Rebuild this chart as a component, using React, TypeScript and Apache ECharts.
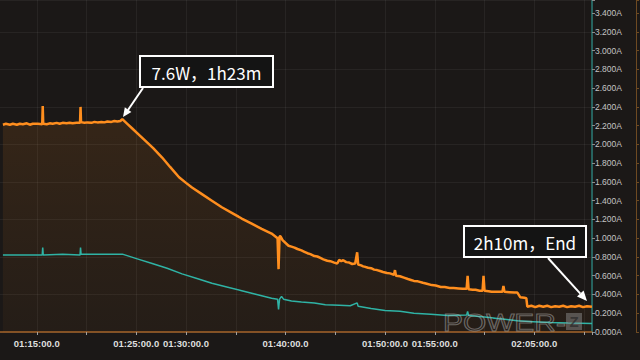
import React, { useEffect, useRef } from "react";
import * as echarts from "echarts";

// time in minutes since 00:00 (e.g. 75 = 01:15:00), current in A
const orangeData: [number, number][] = [
  [71.6, 2.21], [71.9, 2.22], [72.3, 2.21], [72.6, 2.22], [73.0, 2.21], [73.3, 2.22], [73.6, 2.215],
  [74.0, 2.225], [74.3, 2.21], [74.6, 2.22], [75.1, 2.22], [75.55, 2.215], [75.6, 2.41], [75.65, 2.22],
  [76.0, 2.215], [76.3, 2.225], [76.6, 2.22], [77.0, 2.23], [77.3, 2.22], [77.6, 2.23], [78.0, 2.225],
  [78.3, 2.23], [78.6, 2.225], [79.0, 2.23], [79.35, 2.23], [79.4, 2.4], [79.45, 2.24], [79.8, 2.23],
  [80.1, 2.235], [80.5, 2.23], [80.8, 2.24], [81.1, 2.235], [81.5, 2.24], [81.8, 2.235], [82.1, 2.245],
  [82.5, 2.24], [82.8, 2.25], [83.1, 2.245], [83.4, 2.25], [83.6, 2.27], [84.1, 2.22], [84.6, 2.17],
  [85.2, 2.11], [85.9, 2.04], [86.7, 1.96], [87.6, 1.86], [88.4, 1.76], [89.3, 1.65], [90.0, 1.59],
  [90.6, 1.54], [91.6, 1.47], [92.6, 1.4], [93.6, 1.33], [94.6, 1.27], [95.6, 1.21], [96.6, 1.155],
  [97.6, 1.1], [98.6, 1.05], [99.2, 1.0], [99.3, 0.67], [99.4, 1.02], [99.5, 1.02], [99.7, 0.98],
  [100.3, 0.92], [100.6, 0.91], [100.9, 0.9], [101.2, 0.885], [101.6, 0.87], [101.9, 0.855],
  [102.2, 0.84], [102.5, 0.83], [102.9, 0.81], [103.2, 0.805], [103.5, 0.79], [103.8, 0.775],
  [104.2, 0.76], [104.5, 0.755], [104.9, 0.74], [105.2, 0.73], [105.4, 0.77], [105.6, 0.755],
  [105.8, 0.765], [106.1, 0.745], [106.4, 0.74], [106.7, 0.725], [107.0, 0.73], [107.2, 0.85],
  [107.3, 0.72], [107.6, 0.71], [107.8, 0.7], [108.0, 0.695], [108.3, 0.685], [108.6, 0.68],
  [108.9, 0.665], [109.2, 0.66], [109.5, 0.65], [109.8, 0.64], [110.2, 0.63], [110.5, 0.625],
  [110.9, 0.61], [111.0, 0.66], [111.1, 0.6], [111.5, 0.595], [111.9, 0.58], [112.3, 0.565],
  [112.6, 0.555], [112.9, 0.545], [113.3, 0.54], [113.8, 0.525], [114.2, 0.515], [114.7, 0.5],
  [115.1, 0.495], [115.6, 0.48], [116.0, 0.48], [116.5, 0.47], [116.9, 0.47], [117.4, 0.465],
  [117.8, 0.46], [118.2, 0.46], [118.3, 0.6], [118.4, 0.455], [118.8, 0.45], [119.1, 0.45],
  [119.5, 0.44], [119.8, 0.44], [119.9, 0.6], [120.0, 0.44], [120.4, 0.435], [120.7, 0.43],
  [121.1, 0.43], [121.8, 0.43], [121.9, 0.49], [122.0, 0.43], [122.5, 0.425], [123.0, 0.42],
  [123.3, 0.42], [123.6, 0.37], [124.0, 0.365], [124.2, 0.36], [124.3, 0.27], [124.7, 0.28],
  [125.1, 0.265], [125.5, 0.28], [125.9, 0.27], [126.3, 0.28], [126.7, 0.265], [127.1, 0.275],
  [127.5, 0.27], [127.9, 0.28], [128.3, 0.265], [128.7, 0.275], [129.1, 0.27], [129.5, 0.28],
  [129.9, 0.265], [130.3, 0.275], [130.8, 0.27],
];

const tealData: [number, number][] = [
  [71.6, 0.82], [73.6, 0.82], [75.55, 0.82], [75.6, 0.9], [75.65, 0.82], [77.6, 0.83],
  [79.35, 0.82], [79.4, 0.9], [79.45, 0.83], [81.6, 0.83], [83.6, 0.83], [85.1, 0.78],
  [86.6, 0.73], [88.1, 0.68], [89.6, 0.62], [91.1, 0.57], [92.6, 0.52], [94.1, 0.48],
  [95.6, 0.44], [97.1, 0.4], [98.6, 0.36], [99.2, 0.35], [99.3, 0.24], [99.4, 0.35],
  [99.6, 0.38], [99.8, 0.35], [100.6, 0.33], [101.6, 0.32], [102.9, 0.31], [104.0, 0.29],
  [105.4, 0.285], [106.5, 0.28], [107.2, 0.31], [107.3, 0.275], [108.6, 0.25], [110.0, 0.23],
  [111.5, 0.22], [112.9, 0.2], [114.6, 0.19], [116.3, 0.175], [118.2, 0.18], [118.3, 0.22],
  [118.4, 0.175], [120.0, 0.16], [121.6, 0.14], [123.3, 0.12], [124.9, 0.11], [126.6, 0.1],
  [128.4, 0.095], [130.8, 0.09],
];

// x tick labels that are shown (minutes); the others are hidden in the source
const shownTimeLabels = [75, 85, 90, 100, 110, 115, 125];

const annotationPeak = "7.6W，1h23m";
const annotationEnd = "2h10m，End";

const fmtTime = (v: number) => {
  const h = Math.floor(v / 60);
  const m = Math.round(v - h * 60);
  return `${String(h).padStart(2, "0")}:${String(m).padStart(2, "0")}:00.0`;
};

// the chart canvas is extended 16px to the left of the page so that 01:10 lies just off-screen
const SHIFT = 16;

export default function App() {
  const ref = useRef<HTMLDivElement>(null);
  useEffect(() => {
    if (!ref.current) return;
    const chart = echarts.init(ref.current, null, { renderer: "svg" });
    const grid = "rgba(255,255,255,0.055)";
    chart.setOption({
      animation: false,
      backgroundColor: "#1b1817",
      grid: { left: 0, right: 48, top: 0, bottom: 28, containLabel: false },
      xAxis: {
        type: "value",
        min: 70,
        max: 130.8,
        interval: 5,
        axisLine: { show: true, lineStyle: { color: "#a3612a", width: 1.5 } },
        axisTick: { show: true, length: 3, lineStyle: { color: "#a0a0a0" } },
        splitLine: { show: true, lineStyle: { color: grid, width: 1 } },
        axisLabel: {
          margin: 6,
          color: "#dedede",
          fontSize: 9.5,
          fontWeight: "bold",
          fontFamily: "Liberation Sans, Arial, sans-serif",
          formatter: (v: number) =>
            shownTimeLabels.some((s) => Math.abs(s - v) < 1e-6) ? fmtTime(v) : "",
        },
      },
      yAxis: [
        {
          type: "value",
          position: "right",
          min: 0,
          max: 3.54,
          interval: 0.2,
          axisLine: { show: true, lineStyle: { color: "#2a7a76", width: 1.5 } },
          axisTick: { show: true, length: 3, lineStyle: { color: "#8c8c8c" } },
          splitLine: { show: false },
          axisLabel: {
            margin: 3,
            color: "#c4c4c4",
            fontSize: 8.5,
            fontFamily: "Liberation Sans, Arial, sans-serif",
            formatter: (v: number) =>
              Math.abs(v * 5 - Math.round(v * 5)) < 1e-6 ? v.toFixed(3) + "A" : "",
          },
        },
        {
          type: "value",
          position: "right",
          min: 0,
          max: 3.54,
          interval: 0.4,
          axisLine: { show: false },
          axisTick: { show: false },
          axisLabel: { show: false },
          splitLine: { show: true, lineStyle: { color: grid, width: 1 } },
        },
        {
          type: "value",
          position: "right",
          offset: 44,
          min: 0,
          max: 3.54,
          interval: 0.2,
          axisLine: { show: true, lineStyle: { color: "#6e4a22", width: 1 } },
          axisTick: { show: true, length: 3, lineStyle: { color: "#6e4a22" } },
          axisLabel: { show: false },
          splitLine: { show: false },
        },
      ],
      series: [
        {
          type: "line",
          data: orangeData,
          showSymbol: false,
          symbol: "none",
          lineStyle: { color: "#ff8e1e", width: 2.5 },
          areaStyle: {
            color: new echarts.graphic.LinearGradient(0, 0, 0, 1, [
              { offset: 0, color: "rgba(255,142,30,0.17)" },
              { offset: 1, color: "rgba(255,142,30,0.06)" },
            ]),
          },
          z: 2,
        },
        {
          type: "line",
          data: tealData,
          showSymbol: false,
          symbol: "none",
          lineStyle: { color: "#2fb3a5", width: 1.5 },
          z: 3,
        },
      ],
      graphic: [
        {
          type: "group",
          x: SHIFT,
          y: 0,
          children: [
            // watermark
            {
              type: "text",
              x: 443,
              y: 312,
              scaleX: 1.3,
              style: {
                text: "POWER-",
                fontSize: 23,
                fontFamily: "Liberation Sans, Arial, sans-serif",
                fill: "rgba(0,0,0,0)",
                stroke: "rgba(190,190,190,0.45)",
                lineWidth: 1,
              },
              z: 10,
            },
            {
              type: "rect",
              shape: { x: 566, y: 313, width: 16, height: 17 },
              style: { fill: "rgba(150,150,150,0.45)" },
              z: 10,
            },
            {
              type: "text",
              x: 574,
              y: 321.5,
              style: {
                text: "Z",
                fontSize: 15,
                fontWeight: "bold",
                fontFamily: "Liberation Sans, Arial, sans-serif",
                fill: "rgba(40,40,40,0.7)",
                align: "center",
                verticalAlign: "middle",
              },
              z: 11,
            },
            // annotation 1
            {
              type: "rect",
              shape: { x: 140, y: 56, width: 133, height: 31 },
              style: { fill: "#141414", stroke: "#ffffff", lineWidth: 2 },
              z: 20,
            },
            {
              type: "text",
              x: 206.5,
              y: 72,
              style: {
                text: annotationPeak,
                fontSize: 17,
                fontFamily: "Noto Sans CJK SC, Noto Sans, sans-serif",
                fill: "#ffffff",
                align: "center",
                verticalAlign: "middle",
              },
              z: 21,
            },
            {
              type: "line",
              shape: { x1: 143, y1: 88, x2: 128, y2: 110 },
              style: { stroke: "#ffffff", lineWidth: 2 },
              z: 20,
            },
            {
              type: "polygon",
              shape: { points: [[123, 117], [131.4, 111.9], [124.8, 107.3]] },
              style: { fill: "#ffffff" },
              z: 20,
            },
            // annotation 2
            {
              type: "rect",
              shape: { x: 464, y: 226, width: 122, height: 31 },
              style: { fill: "#141414", stroke: "#ffffff", lineWidth: 2 },
              z: 20,
            },
            {
              type: "text",
              x: 525,
              y: 242,
              style: {
                text: annotationEnd,
                fontSize: 17,
                fontFamily: "Noto Sans CJK SC, Noto Sans, sans-serif",
                fill: "#ffffff",
                align: "center",
                verticalAlign: "middle",
              },
              z: 21,
            },
            {
              type: "line",
              shape: { x1: 548, y1: 258, x2: 580.3, y2: 293.6 },
              style: { stroke: "#ffffff", lineWidth: 2 },
              z: 20,
            },
            {
              type: "polygon",
              shape: { points: [[587, 301], [577, 296.6], [583.6, 290.6]] },
              style: { fill: "#ffffff" },
              z: 20,
            },
          ],
        },
      ],
    });
    return () => chart.dispose();
  }, []);
  return (
    <div
      ref={ref}
      style={{ position: "fixed", left: -SHIFT, top: 0, width: 640 + SHIFT, height: 360 }}
    />
  );
}
